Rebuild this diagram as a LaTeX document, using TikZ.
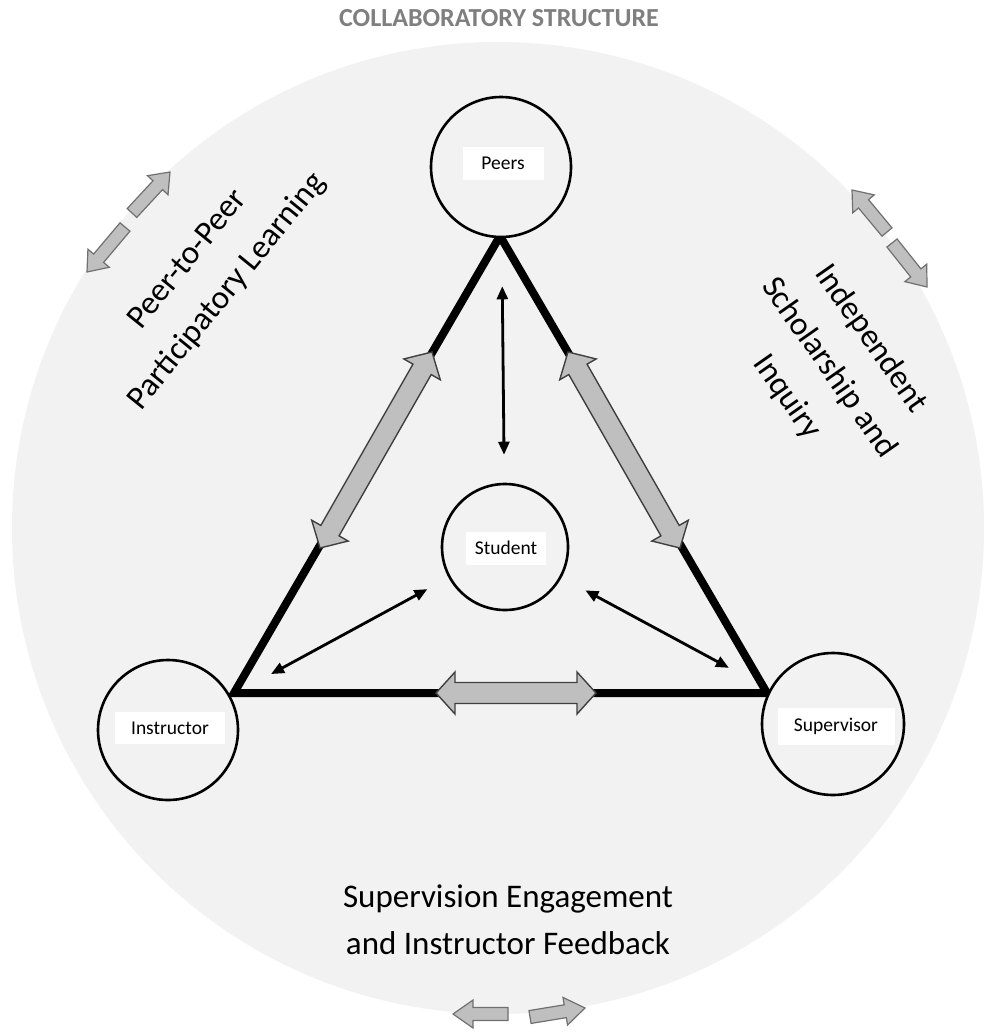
\documentclass[tikz,border=0pt]{standalone}
\usepackage{fontspec}
\setmainfont{Carlito}
\usetikzlibrary{arrows.meta,calc}
\definecolor{bgdisk}{HTML}{F2F2F2}
\definecolor{arrfill}{HTML}{BFBFBF}
\definecolor{arrline}{HTML}{404040}
\definecolor{arrlinelight}{HTML}{707070}
\definecolor{titlegray}{HTML}{7F7F7F}
\tikzset{
  circnode/.style={circle, draw=black, line width=2.6pt, fill=bgdisk, minimum size=140pt, inner sep=0pt},
  lblbox/.style={fill=white, inner sep=0pt, font=\fontsize{19.5}{22}\selectfont},
  triline/.style={line width=8pt, line join=miter, draw=black},
  thinarr/.style={line width=2.8pt, {Triangle[length=13pt,width=11pt]}-{Triangle[length=13pt,width=11pt]}},
  bigblock/.style={fill=arrfill, draw=arrline, line width=1.4pt, line join=miter},
  smallblock/.style={fill=arrfill, draw=arrlinelight, line width=1.2pt, line join=miter},
  bigtext/.style={align=center, font=\fontsize{33}{47}\selectfont, inner sep=0pt},
  rottext/.style={align=center, font=\fontsize{33}{51}\selectfont, inner sep=0pt},
  titletext/.style={font=\bfseries\fontsize{26}{30}\selectfont, text=titlegray, inner sep=0pt}
}
% double block arrow: x1 y1 x2 y2 shafthalf headhalf headlen style
\newcommand\dblblock[8]{%
  \pgfmathsetmacro\aang{atan2(-(#4-#2),#3-#1)}%
  \pgfmathsetmacro\alen{veclen(#3-#1,#4-#2)}%
  \pgfmathsetmacro\ab{\alen-#7}%
  \draw[#8, shift={(#1pt,-#2pt)}, rotate=\aang]
    (0pt,0pt) -- (#7pt,#6pt) -- (#7pt,#5pt) -- (\ab pt,#5pt) -- (\ab pt,#6pt)
    -- (\alen pt,0pt) -- (\ab pt,-#6pt) -- (\ab pt,-#5pt) -- (#7pt,-#5pt)
    -- (#7pt,-#6pt) -- cycle;}
% single block arrow: tail x1 y1, tip x2 y2, shafthalf headhalf headlen style
\newcommand\sglblock[8]{%
  \pgfmathsetmacro\aang{atan2(-(#4-#2),#3-#1)}%
  \pgfmathsetmacro\alen{veclen(#3-#1,#4-#2)}%
  \pgfmathsetmacro\ab{\alen-#7}%
  \draw[#8, shift={(#1pt,-#2pt)}, rotate=\aang]
    (0pt,#5pt) -- (\ab pt,#5pt) -- (\ab pt,#6pt) -- (\alen pt,0pt)
    -- (\ab pt,-#6pt) -- (\ab pt,-#5pt) -- (0pt,-#5pt) -- cycle;}
\begin{document}
\begin{tikzpicture}[x=1pt,y=-1pt]
\useasboundingbox (0,0) rectangle (989,1036);
\fill[white] (0,0) rectangle (989,1036);
\fill[bgdisk] (498,528) circle[radius=486];

\node[titletext] (title) at (499,18) {COLLABORATORY STRUCTURE};

\path (501,167) coordinate (peersc) (505,547) coordinate (studentc)
      (168,730) coordinate (instrc) (833,724) coordinate (supc);

% triangle
\coordinate (vtop) at (500,236);
\coordinate (vleft) at (234,693);
\coordinate (vright) at (767,693);
\draw[triline] (vtop) -- (vleft) -- (vright) -- cycle;

\node[circnode] (peers) at (peersc) {};
\node[circnode, minimum size=126pt] (student) at (studentc) {};
\node[circnode] (instr) at (instrc) {};
\node[circnode, minimum size=142pt] (sup) at (supc) {};

\node[lblbox, minimum width=81pt, minimum height=33pt] (peerslbl) at (503,163) {Peers};
\node[lblbox, minimum width=80pt, minimum height=33pt] (studentlbl) at (506,548) {Student};
\node[lblbox, minimum width=110pt, minimum height=32pt] (instrlbl) at (170,728) {Instructor};
\node[lblbox, minimum width=117pt, minimum height=37pt] (suplbl) at (836,726) {Supervisor};

% thin black double arrows
\draw[thinarr, shorten <=48pt, shorten >=28pt] (peers) -- (student);
\draw[thinarr, shorten <=24pt, shorten >=46pt] (student) -- (instr);
\draw[thinarr, shorten <=27pt, shorten >=46pt] (student) -- (sup);

% block arrows on triangle sides
\dblblock{436}{693}{596}{693}{10.5}{21}{19}{bigblock}
\dblblock{320}{548}{432}{352}{10.5}{21}{20}{bigblock}
\dblblock{568}{352}{680}{548}{10.5}{21}{20}{bigblock}

% outer small arrows
\sglblock{132}{213}{170}{172}{6.5}{14}{18}{smallblock}
\sglblock{125}{227}{87}{272}{6.5}{14}{18}{smallblock}
\sglblock{887}{232}{852}{190}{6.5}{14}{18}{smallblock}
\sglblock{892}{243}{927}{287}{6.5}{14}{18}{smallblock}
\sglblock{508}{1014}{453}{1014}{6.5}{14}{20}{smallblock}
\sglblock{530}{1017}{585}{1008}{6.5}{14}{20}{smallblock}

% labels
\node[rottext, rotate=51] (ptp) at (208,276) {Peer-to-Peer\\Participatory Learning};
\node[rottext, rotate=-55] (isi) at (829,368) {Independent\\Scholarship and\\Inquiry};
\node[bigtext] (sei) at (508,920) {Supervision Engagement\\and Instructor Feedback};
\end{tikzpicture}
\end{document}
